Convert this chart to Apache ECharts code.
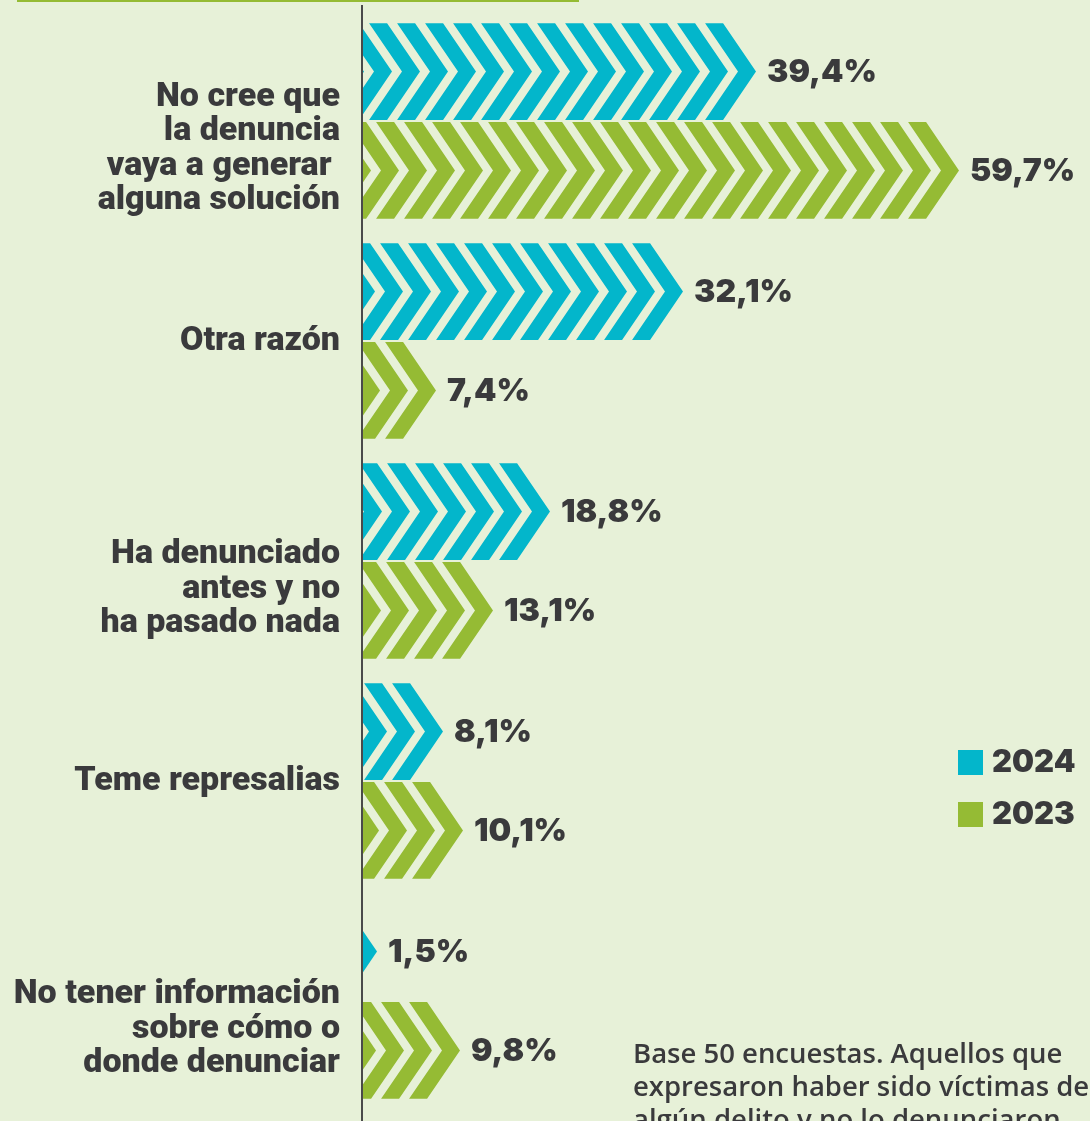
<!DOCTYPE html>
<html>
<head>
<meta charset="utf-8">
<script src="https://cdn.jsdelivr.net/npm/echarts@6/dist/echarts.min.js"></script>
<style>
  html, body { margin: 0; padding: 0; background: #e7f1d8; }
  #chart { width: 1090px; height: 1121px; }
</style>
</head>
<body>
<div id="chart"></div>
<script>
const categories = [
    'No cree que\nla denuncia\nvaya a generar \nalguna solución',
    'Otra razón',
    'Ha denunciado\nantes y no\nha pasado nada',
    'Teme represalias',
    'No tener información\nsobre cómo o\ndonde denunciar'
];
const values2024 = [39.4, 32.1, 18.8, 8.1, 1.5];
const values2023 = [59.7, 7.4, 13.1, 10.1, 9.8];
const seriesNames = ['2024', '2023'];
const note = 'Base 50 encuestas. Aquellos que\nexpresaron haber sido víctimas de\nalgún delito y no lo denunciaron.';

const BLUE = '#03b6cb';
const GREEN = '#95bb34';
const TEXT = '#3a3a3c';

// recorta un poligono a la parte x >= x0
function clipLeft(pts, x0) {
    const out = [];
    for (let i = 0; i < pts.length; i++) {
        const p = pts[i], q = pts[(i + 1) % pts.length];
        const pin = p[0] >= x0, qin = q[0] >= x0;
        if (pin) out.push(p);
        if (pin !== qin) {
            const t = (x0 - p[0]) / (q[0] - p[0]);
            out.push([x0, p[1] + t * (q[1] - p[1])]);
        }
    }
    return out;
}

function fmt(v) {
    return v.toFixed(1).replace('.', ',') + '%';
}

// barra de chevrones, upper = barra de arriba (2024)
function chevronRender(upper, color) {
    return function (params, api) {
        const cat = api.value(1);
        const val = api.value(0);
        const start = api.coord([0, cat]);
        const end = api.coord([val, cat]);
        const band = api.size([0, 1])[1];
        const barH = band * 0.44;
        const top = upper ? start[1] - 1 - barH : start[1] + 1;
        const bottom = top + barH;
        const cy = (top + bottom) / 2;
        const x0 = start[0] + 1;
        const tip = end[0];
        const d = barH * 0.34;
        const w = 18, period = 28;
        const children = [];
        for (let a = tip - d; a + d > x0; a -= period) {
            const pts = [[a - w, top], [a, top], [a + d, cy], [a, bottom], [a - w, bottom], [a + d - w, cy]];
            const c = clipLeft(pts, x0);
            if (c.length >= 3) {
                children.push({type: 'polygon', shape: {points: c}, style: {fill: color}});
            }
        }
        children.push({
            type: 'text',
            style: {
                x: tip + 11, y: cy + 1, text: fmt(val),
                fill: TEXT, fontSize: 32, fontWeight: 900, fontFamily: 'Inter',
                verticalAlign: 'middle', align: 'left'
            }
        });
        return {type: 'group', children: children};
    };
}

const chart = echarts.init(document.getElementById('chart'));
chart.setOption({
    backgroundColor: '#e7f1d8',
    animation: false,
    grid: {left: 362, top: 11, width: 700, height: 1100},
    xAxis: {type: 'value', min: 0, max: 70, show: false},
    yAxis: {
        type: 'category',
        inverse: true,
        data: categories,
        axisLine: {show: false},
        axisTick: {show: false},
        splitLine: {show: false},
        axisLabel: {
            margin: 22, color: TEXT, fontSize: 34, fontWeight: 900,
            fontFamily: 'Roboto', lineHeight: 34.5, align: 'right',
            formatter: function (v) {
                // las etiquetas de varias lineas van algo mas abajo
                return v.indexOf('\n') >= 0 ? '{gap| }\n' + v : v;
            },
            rich: {gap: {fontSize: 1, lineHeight: 56, height: 56}}
        }
    },
    legend: {
        orient: 'vertical', left: 953, top: 742,
        itemWidth: 25, itemHeight: 25, itemGap: 21, icon: 'rect',
        data: seriesNames,
        textStyle: {color: TEXT, fontSize: 31, fontWeight: 900, fontFamily: 'Inter', lineHeight: 25, padding: [0, 0, 0, 4]}
    },
    graphic: [
        {type: 'rect', shape: {x: 17, y: 0, width: 562, height: 2}, style: {fill: GREEN}},
        {type: 'line', shape: {x1: 362, y1: 5, x2: 362, y2: 1121}, style: {stroke: '#4a4a4a', lineWidth: 2}},
        {
            type: 'text', left: 633, top: 1039,
            style: {text: note, fill: TEXT, fontSize: 27.5, fontWeight: 600, fontFamily: 'Open Sans', lineHeight: 33}
        }
    ],
    series: [
        {
            name: seriesNames[0], type: 'custom', itemStyle: {color: BLUE},
            encode: {x: 0, y: 1},
            data: values2024.map(function (v, i) { return [v, i]; }),
            renderItem: chevronRender(true, BLUE)
        },
        {
            name: seriesNames[1], type: 'custom', itemStyle: {color: GREEN},
            encode: {x: 0, y: 1},
            data: values2023.map(function (v, i) { return [v, i]; }),
            renderItem: chevronRender(false, GREEN)
        }
    ]
});
</script>
</body>
</html>
